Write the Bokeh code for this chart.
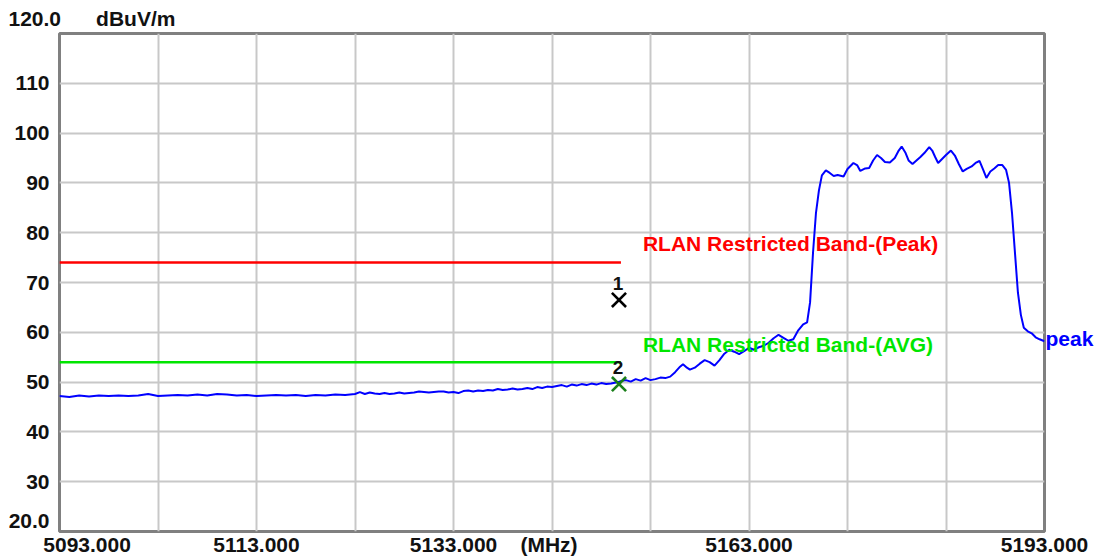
from bokeh.plotting import figure
from bokeh.models import FixedTicker, Label, LabelSet, Range1d, ColumnDataSource, LinearAxis, Title
from bokeh.core.properties import value
from bokeh.embed import file_html
from bokeh.resources import INLINE

# ---------------- data ----------------
freq_mhz = [
    5093, 5094, 5095, 5096, 5097, 5098, 5099, 5100, 5101, 5102,
    5103, 5104, 5105, 5106, 5107, 5108, 5109, 5110, 5111, 5112,
    5113, 5114, 5115, 5116, 5117, 5118, 5119, 5120, 5121, 5122,
    5123, 5123.5, 5124, 5124.5, 5125, 5125.5, 5126, 5126.5, 5127, 5127.5,
    5128, 5128.5, 5129, 5129.5, 5130, 5130.5, 5131, 5131.5, 5132, 5132.5,
    5133, 5133.5, 5134, 5134.5, 5135, 5135.5, 5136, 5136.5, 5137, 5137.5,
    5138, 5138.5, 5139, 5139.5, 5140, 5140.5, 5141, 5141.5, 5142, 5142.5,
    5143, 5143.5, 5144, 5144.5, 5145, 5145.5, 5146, 5146.5, 5147, 5147.5,
    5148, 5148.5, 5149, 5149.5, 5150, 5150.5, 5151, 5151.5, 5152, 5152.5,
    5153, 5153.5, 5154, 5154.5, 5155, 5155.5, 5156, 5156.3, 5156.7, 5157,
    5157.5, 5158, 5158.5, 5159, 5159.5, 5160, 5160.5, 5161, 5161.5, 5162,
    5162.5, 5163, 5163.5, 5164, 5164.5, 5165, 5165.5, 5166, 5166.5, 5167,
    5167.5, 5168, 5168.5, 5168.9, 5169.2, 5169.5, 5169.8, 5170.1, 5170.4, 5170.8,
    5171.2, 5171.6, 5172.0, 5172.6, 5173.0, 5173.6, 5174.0, 5174.3, 5174.8, 5175.2,
    5175.6, 5176.0, 5176.4, 5176.8, 5177.3, 5177.8, 5178.2, 5178.5, 5178.9, 5179.2,
    5179.6, 5180.0, 5180.4, 5180.8, 5181.3, 5181.6, 5181.9, 5182.2, 5182.6, 5183.0,
    5183.5, 5183.9, 5184.3, 5184.7, 5185.1, 5185.6, 5186.0, 5186.4, 5186.8, 5187.1,
    5187.5, 5187.9, 5188.3, 5188.7, 5189.1, 5189.4, 5189.7, 5190.0, 5190.3, 5190.6,
    5190.9, 5191.3, 5191.7, 5192.1, 5192.5, 5193.0,
]
level_dbuv = [
    47.2, 47.0, 47.3, 47.1, 47.3, 47.2, 47.3, 47.2, 47.3, 47.6,
    47.2, 47.3, 47.4, 47.3, 47.5, 47.3, 47.6, 47.5, 47.3, 47.4,
    47.2, 47.3, 47.4, 47.3, 47.4, 47.2, 47.4, 47.3, 47.5, 47.4,
    47.6, 48.0, 47.6, 47.9, 47.7, 47.6, 47.8, 47.6, 47.7, 47.9,
    47.7, 47.8, 47.9, 48.1, 48.0, 47.9, 48.0, 48.1, 48.1, 47.9,
    48.0, 47.8, 48.2, 48.3, 48.1, 48.3, 48.2, 48.4, 48.3, 48.6,
    48.4, 48.5, 48.7, 48.5, 48.6, 48.8, 48.6, 49.0, 48.8, 49.1,
    49.0, 49.2, 49.4, 49.1, 49.5, 49.3, 49.6, 49.4, 49.7, 49.5,
    49.8, 49.6, 49.7, 49.9, 50.2, 50.4, 50.1, 50.6, 50.3, 50.8,
    50.4, 50.6, 50.9, 50.8, 51.1, 52.0, 53.1, 53.6, 52.9, 52.5,
    52.9, 53.7, 54.4, 54.0, 53.3, 54.4, 55.7, 56.5, 56.1, 55.6,
    56.2, 56.9, 56.5, 57.0, 57.3, 57.9, 58.8, 59.5, 58.9, 58.3,
    58.6, 60.4, 61.6, 62.0, 66.0, 76.0, 84.0, 88.5, 91.5, 92.5,
    92.0, 91.4, 91.6, 91.3, 92.8, 94.0, 93.5, 92.4, 92.9, 93.0,
    94.5, 95.6, 95.0, 94.2, 94.1, 95.0, 96.5, 97.3, 96.0, 94.5,
    93.8, 94.5, 95.2, 96.0, 97.2, 96.5, 95.2, 94.0, 94.8, 95.6,
    96.5, 95.5, 93.8, 92.3, 92.8, 93.3, 94.0, 94.4, 92.5, 91.0,
    92.3, 92.9, 93.6, 93.6, 92.6, 90.0, 84.0, 76.0, 68.0, 63.5,
    60.9, 60.2, 59.8, 59.0, 58.6, 58.2,
]

limit_start = 5093.0
limit_stop = 5150.0
limit_peak = 74.0
limit_avg = 54.0
limit_peak_name = "RLAN Restricted Band-(Peak)"
limit_avg_name = "RLAN Restricted Band-(AVG)"

marker_freq = [5149.8, 5149.8]
marker_level = [66.5, 49.6]
marker_names = ["1", "2"]
marker_colors = ["#000000", "#1a7f1a"]

grid_x = [5093, 5103, 5113, 5123, 5133, 5143, 5153, 5163, 5173, 5183, 5193]
grid_y = [20, 30, 40, 50, 60, 70, 80, 90, 100, 110, 120]
# tick label texts and where they sit in the reference
x_tick_pos = [5095.8, 5113, 5133, 5142.7, 5163, 5193]
x_tick_text = ["5093.000", "5113.000", "5133.000", "(MHz)", "5163.000", "5193.000"]
y_tick_pos = [22.1, 30, 40, 50, 60, 70, 80, 90, 100, 110]
y_tick_text = ["20.0", "30", "40", "50", "60", "70", "80", "90", "100", "110"]
y_top_text = "120.0"
y_unit = "dBuV/m"
trace_name = "peak"
trace_name_level = 58.8

# ---------------- styles ----------------
FONT = "Liberation Sans"
FS = "21px"
RED = "#ff0000"
GREEN = "#00e600"
BLUE = "#0000ff"

p = figure(
    frame_width=985, frame_height=498,
    min_border_left=59, min_border_right=10, min_border_top=32, min_border_bottom=20,
    x_range=Range1d(5093, 5193), y_range=Range1d(20, 120),
    output_backend="svg", toolbar_location=None,
    background_fill_color="white", border_fill_color="white",
)
p.outline_line_color = "#808080"
p.outline_line_width = 3

p.xaxis.ticker = FixedTicker(ticks=x_tick_pos)
p.yaxis.ticker = FixedTicker(ticks=y_tick_pos)
p.xaxis.major_label_overrides = dict(zip(x_tick_pos, x_tick_text))
p.yaxis.major_label_overrides = dict(zip(y_tick_pos, y_tick_text))

# right axis carrying the trace name, as the analyser prints it
p.add_layout(LinearAxis(ticker=FixedTicker(ticks=[trace_name_level]),
                        major_label_overrides={trace_name_level: trace_name}), "right")

for ax in p.xaxis + p.yaxis:
    ax.axis_line_color = None
    ax.major_tick_line_color = None
    ax.minor_tick_line_color = None
    ax.major_tick_out = 0
    ax.major_tick_in = 0
    ax.major_label_text_font = FONT
    ax.major_label_text_font_style = "bold"
    ax.major_label_text_font_size = FS
    ax.major_label_text_color = "#111111"
p.xaxis.major_label_standoff = 1
p.yaxis[0].major_label_standoff = 10
p.yaxis[1].major_label_standoff = 1
p.yaxis[1].major_label_text_color = BLUE

p.xgrid.ticker = FixedTicker(ticks=grid_x)
p.ygrid.ticker = FixedTicker(ticks=grid_y)
p.grid.grid_line_color = "#c8c8c8"
p.grid.grid_line_width = 2

# top-left caption: "120.0   dBuV/m"
p.title = Title(text=y_top_text + "\u00a0" * 6 + y_unit, align="left", offset=-51,
                text_font=FONT, text_font_style="bold", text_font_size=FS,
                text_color="#111111", standoff=8)

# limit lines
p.line([limit_start, limit_stop], [limit_peak, limit_peak], line_color=RED, line_width=2.5)
p.line([limit_start, limit_stop], [limit_avg, limit_avg], line_color=GREEN, line_width=2.5)

# trace
p.line(freq_mhz, level_dbuv, line_color=BLUE, line_width=2)

# markers
msrc = ColumnDataSource(dict(x=marker_freq, y=marker_level, name=marker_names, color=marker_colors))
p.scatter("x", "y", source=msrc, marker="x", size=20, line_width=2.6, line_color="color")
p.add_layout(LabelSet(x="x", y="y", text="name", source=msrc, y_offset=10, x_offset=-1,
                      text_align="center", text_baseline="bottom",
                      text_font=value(FONT), text_font_style="bold",
                      text_font_size="19px", text_color="#111111"))


def lab(x, y, text, dx, dy, color="#111111"):
    p.add_layout(Label(x=x, y=y, text=text, x_offset=dx, y_offset=dy,
                       text_align="left", text_baseline="middle",
                       text_font=FONT, text_font_style="bold",
                       text_font_size=FS, text_color=color))


lab(limit_stop, limit_peak, limit_peak_name, 22, 19, color=RED)
lab(limit_stop, limit_avg, limit_avg_name, 22, 18, color=GREEN)

open("out.html", "w").write(file_html(p, INLINE))
